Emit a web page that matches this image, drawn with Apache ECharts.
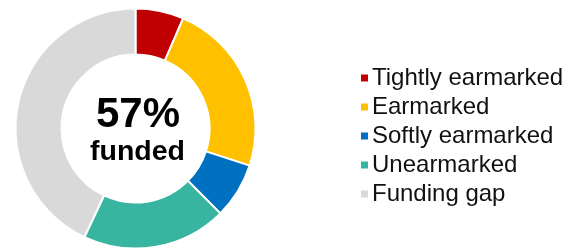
<!DOCTYPE html>
<html><head><meta charset="utf-8">
<script src="https://cdn.jsdelivr.net/npm/echarts@6/dist/echarts.min.js"></script>
<style>html,body{margin:0;padding:0;background:#fff}#c{width:572px;height:249px}</style>
</head><body><div id="c"></div>
<script>
const categories = ["Tightly earmarked", "Earmarked", "Softly earmarked", "Unearmarked", "Funding gap"];
const values = [6.5, 23.5, 7.5, 19.5, 43];
const colors = ["#C00000", "#FFC000", "#0070C0", "#38B5A0", "#D9D9D9"];
const centerTitle = "57%";
const centerSub = "funded";

const chart = echarts.init(document.getElementById('c'), null, {renderer: 'canvas'});
chart.setOption({
  animation: false,
  legend: {
    orient: 'vertical',
    left: 354,
    top: 61,
    icon: 'rect',
    itemWidth: 9,
    itemHeight: 9,
    itemGap: 5,
    selectedMode: false,
    textStyle: {fontFamily: 'Liberation Sans, Arial, sans-serif', fontSize: 24, color: '#111', lineHeight: 24, padding: [0,0,0,-2]},
    data: categories
  },
  graphic: [
    {type: 'text', x: 138, y: 115, style: {text: centerTitle, align: 'center', verticalAlign: 'middle', font: 'bold 42px "Liberation Sans", Arial, sans-serif', fill: '#000'}},
    {type: 'text', x: 137.5, y: 152, style: {text: centerSub, align: 'center', verticalAlign: 'middle', font: 'bold 28.5px "Liberation Sans", Arial, sans-serif', fill: '#000'}}
  ],
  series: [{
    type: 'pie',
    center: [135.5, 128.5],
    radius: [74, 120],
    startAngle: 90,
    clockwise: true,
    silent: true,
    label: {show: false},
    labelLine: {show: false},
    itemStyle: {borderColor: '#fff', borderWidth: 2},
    data: categories.map((n, i) => ({name: n, value: values[i], itemStyle: {color: colors[i]}}))
  }]
});
</script></body></html>
